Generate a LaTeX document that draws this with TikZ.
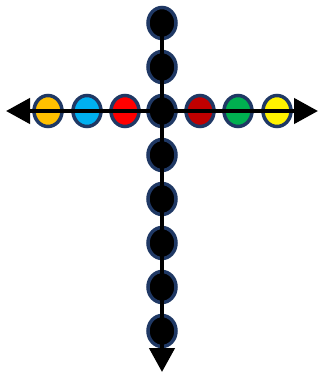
\documentclass[tikz,border=0pt]{standalone}
\usetikzlibrary{shapes.geometric,arrows.meta}
\definecolor{rim}{HTML}{1F3864}
\definecolor{amber}{HTML}{FFC000}
\definecolor{sky}{HTML}{00B0F0}
\definecolor{crimson}{HTML}{C00000}
\definecolor{leaf}{HTML}{00B050}
\begin{document}
\begin{tikzpicture}[x=1pt, y=-1pt,
  bead/.style={ellipse, draw=rim, line width=3.5pt, minimum width=28pt, minimum height=31pt, inner sep=0pt},
  axis/.style={line width=4.5pt}]
  \useasboundingbox (0,0) rectangle (320,373);
  \coordinate (L) at (6,111); \coordinate (R) at (318,111); \coordinate (B) at (162,372);
  % row of coloured beads
  \foreach \x/\c/\n in {48/amber/h1, 87/sky/h2, 125/red/h3, 200/crimson/h5, 238/leaf/h6, 277/yellow/h7}
    \node[bead, fill=\c] (\n) at (\x,111) {};
  % column of black beads
  \foreach \y/\n in {23/v1, 67/v2, 111/v3, 155/v4, 199/v5, 243/v6, 287/v7, 331/v8}
    \node[bead, fill=black] (\n) at (162,\y) {};
  \draw[axis, {Triangle[length=24pt,width=25pt]}-{Triangle[length=24pt,width=25pt]}] (L) -- (R);
  \draw[axis, -{Triangle[length=24pt,width=25pt]}] (v1.center) -- (B);
\end{tikzpicture}
\end{document}
